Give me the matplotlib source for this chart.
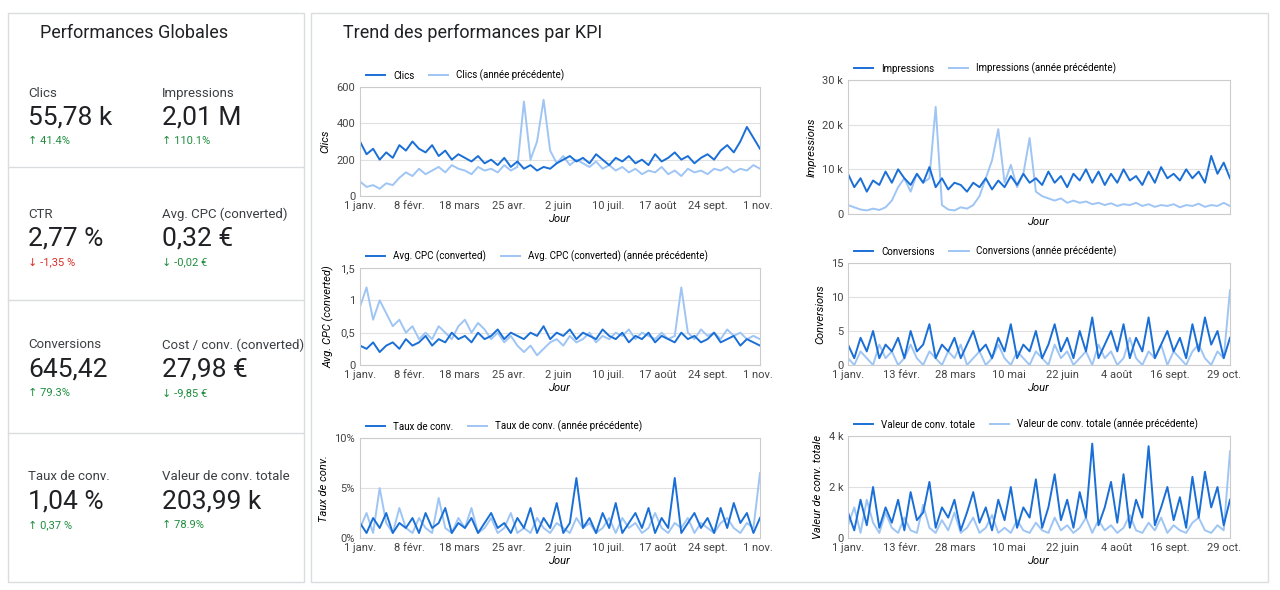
import numpy as np
import matplotlib
matplotlib.use("Agg")
from matplotlib import pyplot as plt
from matplotlib.patches import Rectangle
from matplotlib.lines import Line2D

plt.rcParams['font.family'] = ['Roboto', 'DejaVu Sans']

DARK = '#1a6fd6'
LIGHT = '#9fc5f4'

# KPI tiles
kpi_labels = ['Clics', 'Impressions', 'CTR', 'Avg. CPC (converted)', 'Conversions',
              'Cost / conv. (converted)', 'Taux de conv.', 'Valeur de conv. totale']
kpi_values = ['55,78 k', '2,01 M', '2,77 %', '0,32 €', '645,42', '27,98 €', '1,04 %', '203,99 k']
kpi_deltas = ['41.4%', '110.1%', '-1,35 %', '-0,02 €', '79.3%', '-9,85 €', '0,37 %', '78.9%']
kpi_up = [True, True, False, False, True, False, True, True]
kpi_good = [True, True, False, True, True, True, True, True]

# daily series sampled every ~5 days, 1 janv. -> 3 nov.
clics = [300, 230, 260, 200, 240, 210, 280, 250, 300, 260, 240, 280, 220, 250, 200, 230, 210, 190, 220, 180,
         200, 170, 210, 160, 190, 150, 170, 140, 160, 150, 180, 200, 220, 190, 210, 180, 230, 200, 170, 210,
         190, 220, 180, 200, 170, 230, 190, 210, 240, 200, 220, 180, 210, 230, 200, 250, 280, 240, 300, 380, 320, 260]
clics_prev = [80, 50, 60, 40, 70, 60, 100, 130, 110, 150, 120, 140, 160, 130, 170, 150, 140, 120, 160, 140,
              150, 130, 170, 140, 160, 520, 200, 300, 530, 250, 180, 220, 170, 200, 180, 160, 190, 150, 170, 140,
              160, 130, 150, 120, 140, 130, 160, 120, 140, 110, 150, 130, 140, 120, 150, 140, 160, 130, 150, 140, 170, 150]
impr = [9000, 6000, 8000, 5000, 7500, 6500, 9500, 7000, 10000, 8000, 6500, 9000, 7000, 10500, 6000, 8000, 5500, 7000,
        6500, 5000, 7000, 6000, 8000, 5500, 7500, 6000, 8500, 6500, 9000, 7000, 8000, 6500, 9500, 7000, 8500, 6000,
        9000, 7500, 10000, 7000, 9500, 6500, 9000, 7000, 10000, 7500, 8500, 6500, 9500, 7000, 10500, 8000, 9000, 7500,
        10000, 8000, 9500, 7000, 13000, 9000, 11500, 8000]
impr_prev = [2000, 1500, 1000, 800, 1200, 900, 1500, 3000, 6000, 8000, 5000, 9000, 7000, 8000, 24000, 2000, 1000, 800,
             1500, 1200, 2000, 4000, 8000, 12000, 19000, 7000, 11000, 6000, 9000, 17000, 5000, 4000, 3500, 3000, 3500,
             2500, 3000, 2500, 2800, 2200, 2500, 2000, 2400, 1800, 2200, 2000, 2500, 1800, 2200, 1600, 2000, 1800, 2200,
             1500, 2000, 1800, 2300, 1600, 2000, 1800, 2500, 1800]
cpc = [0.3, 0.25, 0.35, 0.2, 0.3, 0.35, 0.25, 0.4, 0.3, 0.35, 0.45, 0.3, 0.4, 0.35, 0.5, 0.4, 0.45, 0.35, 0.5, 0.4,
       0.45, 0.55, 0.4, 0.5, 0.45, 0.4, 0.5, 0.45, 0.6, 0.4, 0.5, 0.45, 0.55, 0.4, 0.5, 0.45, 0.4, 0.55, 0.45, 0.4,
       0.5, 0.35, 0.45, 0.4, 0.5, 0.35, 0.45, 0.4, 0.35, 0.5, 0.4, 0.45, 0.35, 0.4, 0.5, 0.35, 0.4, 0.45, 0.3, 0.4, 0.35, 0.3]
cpc_prev = [0.9, 1.2, 0.7, 1.0, 0.8, 0.6, 0.7, 0.5, 0.6, 0.4, 0.5, 0.4, 0.6, 0.5, 0.4, 0.6, 0.7, 0.5, 0.65, 0.55,
            0.4, 0.5, 0.35, 0.45, 0.3, 0.2, 0.3, 0.15, 0.25, 0.35, 0.4, 0.3, 0.45, 0.35, 0.4, 0.5, 0.35, 0.45, 0.4, 0.5,
            0.45, 0.55, 0.4, 0.5, 0.45, 0.4, 0.5, 0.4, 0.45, 1.2, 0.5, 0.4, 0.55, 0.45, 0.5, 0.4, 0.55, 0.45, 0.5, 0.4, 0.45, 0.4]
conv = [3, 1, 4, 2, 5, 1, 3, 2, 4, 1, 5, 2, 3, 6, 1, 3, 2, 4, 1, 3, 5, 2, 3, 1, 4, 2, 6, 1, 3, 2,
        5, 1, 3, 6, 2, 4, 1, 5, 2, 7, 1, 3, 5, 2, 6, 1, 4, 2, 7, 1, 3, 5, 2, 4, 1, 6, 2, 7, 3, 5, 1, 4]
conv_prev = [1, 0, 2, 1, 0, 3, 1, 2, 0, 1, 3, 1, 0, 2, 1, 0, 2, 1, 3, 0, 1, 2, 0, 1, 3, 1, 0, 2, 1, 0,
             2, 1, 0, 3, 1, 2, 0, 1, 2, 0, 3, 1, 2, 0, 1, 4, 1, 0, 2, 1, 3, 0, 2, 1, 0, 2, 3, 1, 0, 2, 1, 11]
taux = [1.5, 0.5, 2.0, 1.0, 2.5, 0.5, 1.5, 1.0, 2.0, 0.5, 2.5, 1.0, 1.5, 3.0, 0.5, 1.5, 1.0, 2.0, 0.5, 1.5,
        2.5, 1.0, 1.5, 0.5, 2.0, 1.0, 3.0, 0.5, 2.0, 1.0, 3.5, 0.5, 1.5, 6.0, 1.0, 2.0, 0.5, 2.5, 1.0, 3.5,
        0.5, 1.5, 2.5, 1.0, 3.0, 0.5, 2.0, 1.0, 6.0, 0.5, 1.5, 2.5, 1.0, 2.0, 0.5, 3.0, 1.0, 3.5, 1.5, 2.5, 0.5, 2.0]
taux_prev = [1.0, 2.5, 0.5, 5.0, 1.5, 0.5, 3.0, 1.0, 0.5, 2.0, 1.0, 0.5, 4.0, 1.0, 0.5, 2.0, 1.0, 3.0, 0.5, 1.0,
             2.0, 0.5, 1.0, 2.5, 0.5, 1.0, 0.5, 2.0, 1.0, 0.5, 1.5, 1.0, 0.5, 2.0, 1.0, 1.5, 0.5, 1.0, 2.0, 0.5,
             2.0, 1.0, 1.5, 0.5, 1.0, 2.5, 1.0, 0.5, 1.5, 1.0, 2.0, 0.5, 1.5, 1.0, 0.5, 1.5, 2.0, 1.0, 0.5, 1.5, 1.0, 6.5]
valeur = [1000, 300, 1500, 500, 2000, 400, 1200, 600, 1500, 300, 1800, 700, 1000, 2200, 400, 1200, 800, 1500, 300, 1000,
          1800, 600, 1200, 300, 1500, 700, 2000, 400, 1200, 800, 2300, 400, 1200, 2500, 700, 1500, 400, 1800, 800, 3700,
          500, 1200, 2200, 600, 2500, 400, 1500, 800, 3600, 500, 1200, 2000, 700, 1600, 400, 2400, 800, 2600, 1200, 2000, 500, 1500]
valeur_prev = [500, 1200, 200, 1500, 600, 200, 1000, 400, 200, 800, 300, 200, 1300, 400, 200, 700, 300, 1000, 200, 400,
               800, 200, 400, 900, 200, 400, 200, 700, 300, 200, 600, 300, 200, 800, 300, 500, 200, 400, 800, 200,
               700, 300, 500, 200, 400, 900, 300, 200, 600, 300, 800, 200, 500, 300, 200, 600, 800, 300, 200, 500, 300, 3400]

ticks_a = ['1 janv.', '8 févr.', '18 mars', '25 avr.', '2 juin', '10 juil.', '17 août', '24 sept.', '1 nov.']
ticks_b = ['1 janv.', '13 févr.', '28 mars', '10 mai', '22 juin', '4 août', '16 sept.', '29 oct.']

fig = plt.figure(figsize=(12.8, 5.9), dpi=100)
W, H = 1280, 590


def px(x0, y0, x1, y1):
    return [x0 / W, 1 - y1 / H, (x1 - x0) / W, (y1 - y0) / H]


# panels
for x0, x1 in [(8, 304), (311, 1268)]:
    fig.patches.append(Rectangle((x0 / W, 1 - 582 / H), (x1 - x0) / W, 569 / H,
                                 transform=fig.transFigure, fill=False, ec='#dadce0', lw=1))
fig.text(40 / W, 1 - 33 / H, 'Performances Globales', fontsize=13, va='center', color='#202124')
fig.text(343 / W, 1 - 33 / H, 'Trend des performances par KPI', fontsize=13, va='center', color='#202124')

for yl in [167, 300, 433]:
    fig.add_artist(Line2D([8 / W, 304 / W], [1 - yl / H] * 2, color='#dadce0', lw=1))

row_y = [93, 214, 345, 477]
for i in range(8):
    row, col = i // 2, i % 2
    x = (28 if col == 0 else 162) / W
    y0 = row_y[row]
    fig.text(x, 1 - y0 / H, kpi_labels[i], fontsize=9.5, va='center', color='#3c4043')
    fig.text(x, 1 - (y0 + 24) / H, kpi_values[i], fontsize=19, va='center', color='#202124')
    c = '#1e8e3e' if kpi_good[i] else '#d93025'
    arrow = '↑' if kpi_up[i] else '↓'
    fig.text(x, 1 - (y0 + 48) / H, arrow + ' ' + kpi_deltas[i], fontsize=8, va='center', color=c)

n_days = 307
charts = [
    (px(360, 87, 760, 196), clics, clics_prev, 'Clics', [0, 200, 400, 600], ['0', '200', '400', '600'], ticks_a, 38),
    (px(848, 80, 1230, 214), impr, impr_prev, 'Impressions', [0, 10000, 20000, 30000], ['0', '10 k', '20 k', '30 k'], [], 38),
    (px(360, 268, 760, 365), cpc, cpc_prev, 'Avg. CPC (converted)', [0, 0.5, 1, 1.5], ['0', '0,5', '1', '1,5'], ticks_a, 38),
    (px(848, 263, 1230, 365), conv, conv_prev, 'Conversions', [0, 5, 10, 15], ['0', '5', '10', '15'], ticks_b, 43),
    (px(360, 438, 760, 538), taux, taux_prev, 'Taux de conv.', [0, 5, 10], ['0%', '5%', '10%'], ticks_a, 38),
    (px(848, 436, 1230, 538), valeur, valeur_prev, 'Valeur de conv. totale', [0, 2000, 4000], ['0', '2 k', '4 k'], ticks_b, 43),
]

for rect, cur, prev, name, yt, ytl, xtl, step, in charts:
    ax = fig.add_axes(rect)
    xs = np.linspace(0, n_days - 1, len(cur))
    ax.plot(xs, prev, color=LIGHT, lw=1.4, label=name + ' (année précédente)')
    ax.plot(xs, cur, color=DARK, lw=1.4, label=name)
    ax.set_xlim(0, n_days - 1)
    ax.set_ylim(yt[0], yt[-1])
    ax.set_yticks(yt)
    ax.set_yticklabels(ytl, fontsize=8)
    ax.set_xticks([k * step for k in range(len(xtl))])
    ax.set_xticklabels(xtl, fontsize=8)
    ax.tick_params(length=0, colors='#444444')
    ax.grid(axis='y', color='#e0e0e0', lw=0.8)
    for s in ax.spines.values():
        s.set_color('#cccccc')
    ax.set_ylabel(name, fontsize=8, style='italic')
    ax.set_xlabel('Jour', fontsize=8, style='italic', labelpad=2)
    h, l = ax.get_legend_handles_labels()
    ax.legend(h[::-1], l[::-1], loc='lower left', bbox_to_anchor=(0, 1.0), ncol=2, frameon=False,
              fontsize=7, handlelength=2.0, borderaxespad=0.2, columnspacing=1.5)

fig.savefig('out.png', dpi=100)
